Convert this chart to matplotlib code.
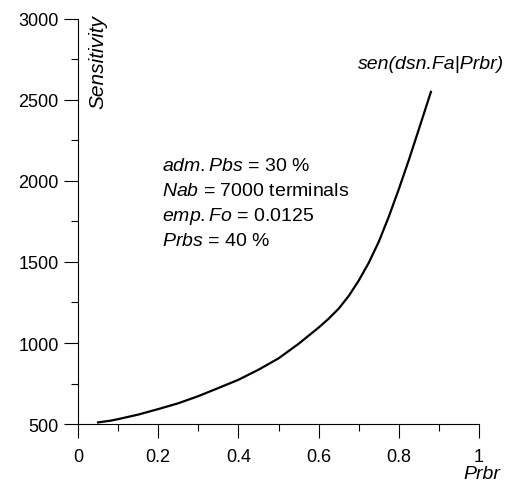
import matplotlib
matplotlib.use("Agg")
import matplotlib.pyplot as plt
from matplotlib.ticker import MultipleLocator

plt.rcParams['font.family'] = ['Liberation Sans', 'DejaVu Sans']
plt.rcParams['mathtext.fontset'] = 'custom'
plt.rcParams['mathtext.rm'] = 'Liberation Sans'
plt.rcParams['mathtext.it'] = 'Liberation Sans:italic'

prbr = [0.05, 0.08, 0.1, 0.15, 0.2, 0.25, 0.3, 0.35, 0.4, 0.45, 0.5, 0.55,
        0.6, 0.625, 0.65, 0.675, 0.7, 0.725, 0.75, 0.775, 0.8, 0.825, 0.85, 0.88]
sensitivity = [510, 520, 530, 558, 592, 628, 672, 722, 773, 835, 905, 995,
               1095, 1150, 1212, 1290, 1385, 1495, 1625, 1780, 1950, 2130, 2320, 2550]

params = [r"$\mathit{adm.Pbs}$ = 30 %",
          r"$\mathit{Nab}$ = 7000 terminals",
          r"$\mathit{emp.Fo}$ = 0.0125",
          r"$\mathit{Prbs}$ = 40 %"]

fig = plt.figure(figsize=(5.08, 4.85), dpi=100)
ax = fig.add_axes([0.1535, 0.1237, 0.943 - 0.1535, 0.9588 - 0.1237])
ax.plot(prbr, sensitivity, color='black', lw=1.6)

ax.set_xlim(0, 1)
ax.set_ylim(500, 3000)
ax.xaxis.set_major_locator(MultipleLocator(0.2))
ax.xaxis.set_minor_locator(MultipleLocator(0.1))
ax.yaxis.set_major_locator(MultipleLocator(500))
ax.yaxis.set_minor_locator(MultipleLocator(250))
ax.set_xticks([0, 0.2, 0.4, 0.6, 0.8, 1])
ax.set_xticklabels(['0', '0.2', '0.4', '0.6', '0.8', '1'])

for s in ['top', 'right']:
    ax.spines[s].set_visible(False)
for s in ['left', 'bottom']:
    ax.spines[s].set_linewidth(0.8)

ax.tick_params(axis='both', which='major', length=10, width=0.8, labelsize=13, direction='out')
ax.tick_params(axis='both', which='minor', length=5, width=0.8, direction='out')
ax.tick_params(axis='x', which='major', pad=7)
ax.tick_params(axis='y', which='major', pad=4)

ax.text(0.027, 1.012, 'Sensitivity', transform=ax.transAxes, rotation=90,
        fontsize=15, style='italic', ha='left', va='top')
ax.text(1.008, -0.134, 'Prbr', transform=ax.transAxes, fontsize=14,
        style='italic', ha='center', va='baseline')
ax.text(0.88, 2700, 'sen(dsn.Fa|Prbr)', fontsize=14, style='italic',
        ha='center', va='baseline')

y0 = 0.627
for i, t in enumerate(params):
    ax.text(0.21, y0 - i * 0.0617, t, transform=ax.transAxes,
            fontsize=14, ha='left', va='baseline')

fig.savefig('out.png', dpi=100)
